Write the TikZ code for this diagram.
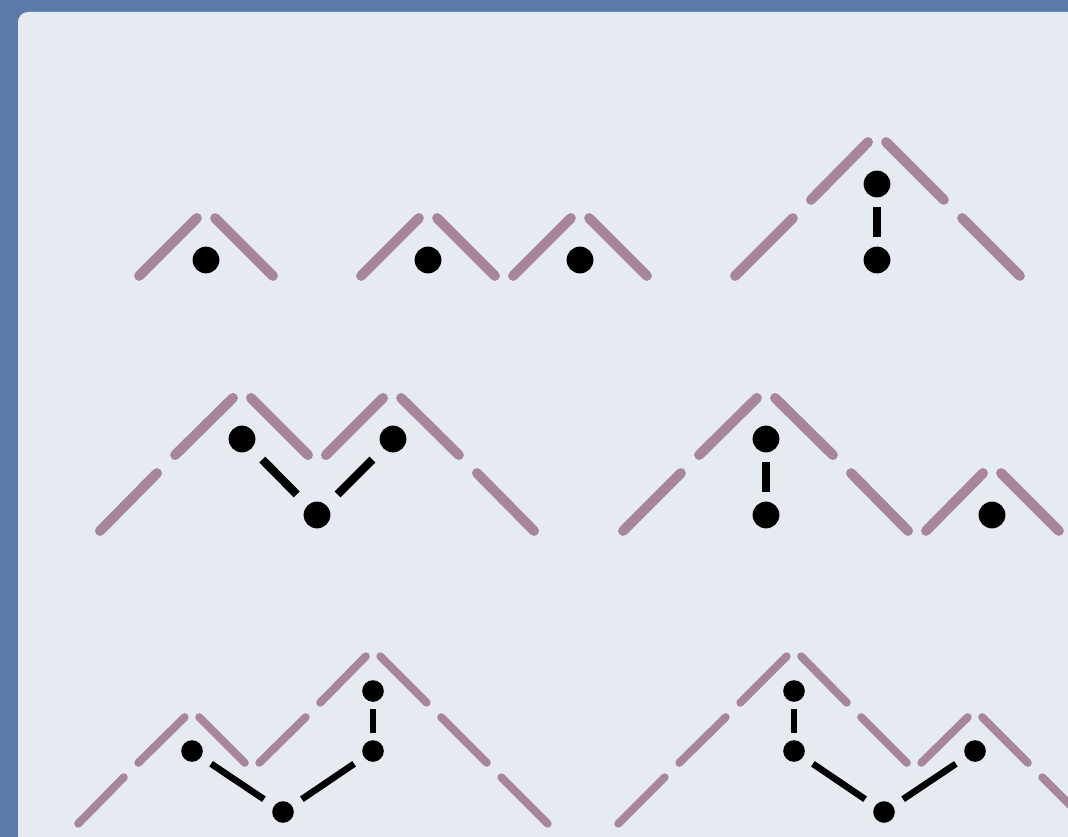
\documentclass[tikz,border=0pt]{standalone}
\usetikzlibrary{calc}
\definecolor{bordblue}{HTML}{5A7BA8}
\definecolor{panelbg}{HTML}{E6EBF2}
\definecolor{mauve}{HTML}{A8869A}
\tikzset{
 mt/.style={draw=mauve, line width=10pt, line cap=round},
 mts/.style={draw=mauve, line width=8pt, line cap=round},
 dotL/.style={circle, fill=black, inner sep=0pt, minimum size=26.8pt},
 dotS/.style={circle, fill=black, inner sep=0pt, minimum size=21.6pt},
 cn/.style={draw=black, line width=8.4pt},
 cns/.style={draw=black, line width=6.6pt},
}
\newcommand\mtseg[3]{\draw[#1] ($(#2)!0.12!(#3)$) -- ($(#2)!0.88!(#3)$);}
\newcommand\tcon[4]{\draw[#1] ($(#2)!#4!(#3)$) -- ($(#3)!#4!(#2)$);}
\begin{document}
\begin{tikzpicture}[x=1pt,y=-1pt]
\useasboundingbox (0,0) rectangle (1068,837);
\clip (0,0) rectangle (1068,837);
\fill[bordblue] (0,0) rectangle (1068,837);
\fill[panelbg, rounded corners=10pt] (18,12) rectangle (1120,900);

% ---- Row 1, panel 1
\coordinate (a0) at (130,285); \coordinate (a1) at (206,209); \coordinate (a2) at (282,285);
\mtseg{mt}{a0}{a1}\mtseg{mt}{a1}{a2}
\node[dotL] (da1) at (206,260) {};

% ---- Row 1, panel 2
\coordinate (b0) at (352,285); \coordinate (b1) at (428,209); \coordinate (b2) at (504,285);
\coordinate (b3) at (580,209); \coordinate (b4) at (656,285);
\mtseg{mt}{b0}{b1}\mtseg{mt}{b1}{b2}\mtseg{mt}{b2}{b3}\mtseg{mt}{b3}{b4}
\node[dotL] (db1) at (428,260) {};
\node[dotL] (db2) at (580,260) {};

% ---- Row 1, panel 3
\coordinate (c0) at (726,285); \coordinate (c1) at (802,209); \coordinate (c2) at (877,133);
\coordinate (c3) at (953,209); \coordinate (c4) at (1029,285);
\mtseg{mt}{c0}{c1}\mtseg{mt}{c1}{c2}\mtseg{mt}{c2}{c3}\mtseg{mt}{c3}{c4}
\node[dotL] (dc1) at (877,184) {};
\node[dotL] (dc2) at (877,260) {};
\tcon{cn}{dc1}{dc2}{0.30}

% ---- Row 2, panel 1
\coordinate (e0) at (91,540); \coordinate (e1) at (166,464); \coordinate (e2) at (242,389);
\coordinate (e3) at (317,464); \coordinate (e4) at (392,389); \coordinate (e5) at (468,464);
\coordinate (e6) at (543,540);
\mtseg{mt}{e0}{e1}\mtseg{mt}{e1}{e2}\mtseg{mt}{e2}{e3}\mtseg{mt}{e3}{e4}\mtseg{mt}{e4}{e5}\mtseg{mt}{e5}{e6}
\node[dotL] (de1) at (242,439) {};
\node[dotL] (de2) at (393,439) {};
\node[dotL] (de3) at (317,515) {};
\tcon{cn}{de1}{de3}{0.27}
\tcon{cn}{de2}{de3}{0.27}

% ---- Row 2, panel 2
\coordinate (f0) at (614,540); \coordinate (f1) at (690,464); \coordinate (f2) at (766,389);
\coordinate (f3) at (842,464); \coordinate (f4) at (917,540); \coordinate (f5) at (992,464);
\coordinate (f6) at (1068,540);
\mtseg{mt}{f0}{f1}\mtseg{mt}{f1}{f2}\mtseg{mt}{f2}{f3}\mtseg{mt}{f3}{f4}\mtseg{mt}{f4}{f5}\mtseg{mt}{f5}{f6}
\node[dotL] (df1) at (766,439) {};
\node[dotL] (df2) at (766,515) {};
\node[dotL] (df3) at (992,515) {};
\tcon{cn}{df1}{df2}{0.30}

% ---- Row 3, panel 1
\coordinate (g0) at (71,831); \coordinate (g1) at (131,770); \coordinate (g2) at (192,710);
\coordinate (g3) at (252,770); \coordinate (g4) at (313,710); \coordinate (g5) at (373,649);
\coordinate (g6) at (434,710); \coordinate (g7) at (494,770); \coordinate (g8) at (555,831);
\mtseg{mts}{g0}{g1}\mtseg{mts}{g1}{g2}\mtseg{mts}{g2}{g3}\mtseg{mts}{g3}{g4}
\mtseg{mts}{g4}{g5}\mtseg{mts}{g5}{g6}\mtseg{mts}{g6}{g7}\mtseg{mts}{g7}{g8}
\node[dotS] (dg1) at (192,751) {};
\node[dotS] (dg2) at (373,691) {};
\node[dotS] (dg3) at (373,751) {};
\node[dotS] (dg4) at (283,812) {};
\tcon{cns}{dg2}{dg3}{0.30}
\tcon{cns}{dg1}{dg4}{0.21}
\tcon{cns}{dg3}{dg4}{0.21}

% ---- Row 3, panel 2
\coordinate (h0) at (611,831); \coordinate (h1) at (672,770); \coordinate (h2) at (733,710);
\coordinate (h3) at (794,649); \coordinate (h4) at (854,710); \coordinate (h5) at (914,770);
\coordinate (h6) at (975,710); \coordinate (h7) at (1035,770); \coordinate (h8) at (1096,831);
\mtseg{mts}{h0}{h1}\mtseg{mts}{h1}{h2}\mtseg{mts}{h2}{h3}\mtseg{mts}{h3}{h4}
\mtseg{mts}{h4}{h5}\mtseg{mts}{h5}{h6}\mtseg{mts}{h6}{h7}\mtseg{mts}{h7}{h8}
\node[dotS] (dh1) at (794,691) {};
\node[dotS] (dh2) at (794,751) {};
\node[dotS] (dh3) at (975,751) {};
\node[dotS] (dh4) at (884,812) {};
\tcon{cns}{dh1}{dh2}{0.30}
\tcon{cns}{dh2}{dh4}{0.21}
\tcon{cns}{dh3}{dh4}{0.21}
\end{tikzpicture}
\end{document}
